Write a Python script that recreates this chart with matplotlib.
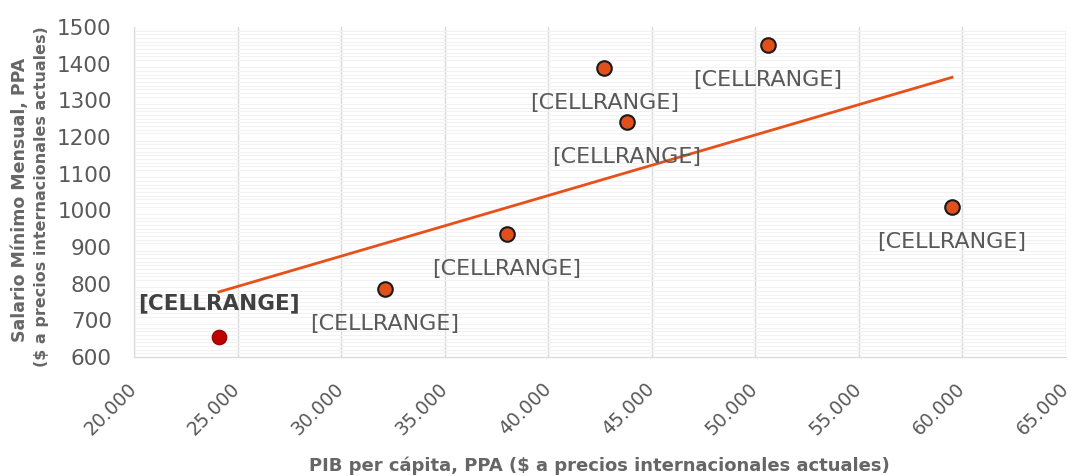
import numpy as np
import matplotlib
matplotlib.use("Agg")
import matplotlib.pyplot as plt
import matplotlib.transforms as mtransforms
from matplotlib.ticker import FuncFormatter, MultipleLocator

gdp = [24100, 32100, 38000, 42700, 43800, 50600, 59500]
wage = [655, 785, 935, 1387, 1240, 1450, 1009]
labels = ["[CELLRANGE]"] * 7
highlight = [True, False, False, False, False, False, False]

W, H = 1071, 476
fig = plt.figure(figsize=(W / 100, H / 100), dpi=100)
ax = fig.add_axes([134 / W, 1 - 357 / H, (1066 - 134) / W, (357 - 27) / H])

ax.set_xlim(20000, 65000)
ax.set_ylim(600, 1500)
ax.xaxis.set_major_locator(MultipleLocator(5000))
ax.yaxis.set_major_locator(MultipleLocator(100))
ax.yaxis.set_minor_locator(MultipleLocator(10))
ax.xaxis.set_major_formatter(FuncFormatter(lambda v, p: f"{int(v):,}".replace(",", ".")))

ax.grid(True, axis="x", which="major", color="#d9d9d9", linewidth=1)
ax.grid(True, axis="y", which="minor", color="#f2f2f2", linewidth=0.8)
ax.set_axisbelow(True)
for s in ["top", "right"]:
    ax.spines[s].set_visible(False)
ax.spines["left"].set_color("#d9d9d9")
ax.spines["bottom"].set_color("#d9d9d9")
ax.tick_params(axis="both", which="both", length=0, colors="#595959")
ax.tick_params(axis="y", labelsize=15.5, pad=16)
ax.tick_params(axis="x", labelsize=13.5, pad=16)
shift = mtransforms.ScaledTranslation(-7 / 100, 0, fig.dpi_scale_trans)
for t in ax.get_xticklabels():
    t.set_rotation(45)
    t.set_ha("right")
    t.set_rotation_mode("anchor")
    t.set_transform(t.get_transform() + shift)

# trendline
coef = np.polyfit(gdp, wage, 1)
xs = np.array([min(gdp), max(gdp)])
ax.plot(xs, np.polyval(coef, xs), color="#E8501A", linewidth=2, zorder=2)

for x, y, lab, hl in zip(gdp, wage, labels, highlight):
    if hl:
        ax.scatter([x], [y], s=110, color="#C00000", edgecolor="#8B0000", linewidth=0.8, zorder=3)
        ax.annotate(lab, (x, y), xytext=(0, 24), textcoords="offset points", ha="center", va="center",
                    fontsize=15.5, fontweight="bold", color="#404040")
    else:
        ax.scatter([x], [y], s=110, color="#E0501A", edgecolor="#1a1a1a", linewidth=1.5, zorder=3)
        ax.annotate(lab, (x, y), xytext=(0, -25), textcoords="offset points", ha="center", va="center",
                    fontsize=16, color="#595959")

fig.text(599 / W, 1 - 466 / H, "PIB per cápita, PPA ($ a precios internacionales actuales)",
         fontsize=13, fontweight="bold", color="#666666", ha="center", va="center")
fig.text(20 / W, 1 - 200 / H, "Salario Mínimo Mensual, PPA", rotation=90,
         fontsize=12.5, fontweight="bold", color="#666666", ha="center", va="center")
fig.text(42 / W, 1 - 197 / H, "($ a precios internacionales actuales)", rotation=90,
         fontsize=11.5, fontweight="bold", color="#666666", ha="center", va="center")

fig.savefig("out.png", dpi=100)
